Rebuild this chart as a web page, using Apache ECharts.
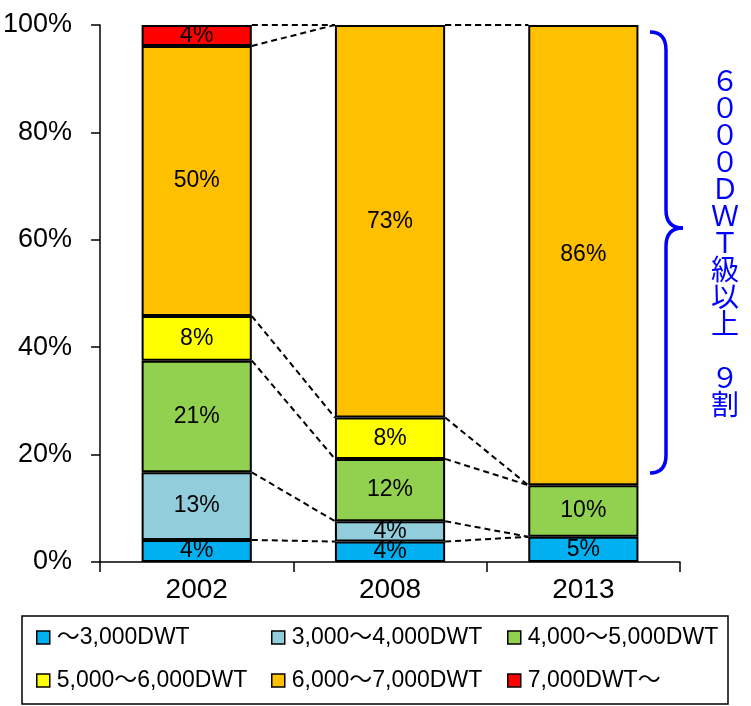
<!DOCTYPE html>
<html>
<head>
<meta charset="utf-8">
<script src="https://cdn.jsdelivr.net/npm/echarts@6/dist/echarts.min.js"></script>
<style>
  html, body { margin: 0; padding: 0; background: #fff; }
  #chart { width: 751px; height: 706px; }
</style>
</head>
<body>
<div id="chart"></div>
<script>
// Fleet composition by ship size (share of vessels, %)
const years = ['2002', '2008', '2013'];

const seriesNames = [
  '～3,000DWT',
  '3,000～4,000DWT',
  '4,000～5,000DWT',
  '5,000～6,000DWT',
  '6,000～7,000DWT',
  '7,000DWT～'
];

const under3000   = [4.1, 3.8, 4.7];
const from3to4k   = [12.6, 3.8, 0];
const from4to5k   = [20.8, 11.6, 9.6];
const from5to6k   = [8.3, 7.7, 0];
const from6to7k   = [50.3, 73.1, 85.7];
const over7000    = [3.9, 0, 0];

const seriesValues = [under3000, from3to4k, from4to5k, from5to6k, from6to7k, over7000];
const seriesColors = ['#00B0F0', '#92CDDC', '#92D050', '#FFFF00', '#FFC000', '#FF0000'];

const yTicks = [0, 20, 40, 60, 80, 100];
const braceNote = ['６', '０', '０', '０', 'Ｄ', 'Ｗ', 'Ｔ', '級', '以', '上', '　', '９', '割'];

const BAR_RATIO = 0.57;
const LABEL_FONT = '"Liberation Sans", "Noto Sans CJK JP", Arial, sans-serif';

// cumulative top of each segment in each year, for the connector lines
const cumTops = [];
(function () {
  const running = years.map(() => 0);
  seriesValues.forEach(vals => {
    const tops = vals.map((v, i) => { running[i] += v; return running[i]; });
    cumTops.push(tops);
  });
})();

const barSeries = seriesNames.map((name, s) => ({
  name: name,
  type: 'bar',
  stack: 'share',
  barWidth: (BAR_RATIO * 100) + '%',
  data: seriesValues[s].map(v => (v === 0 ? null : v)),
  itemStyle: { color: seriesColors[s], borderColor: '#000', borderWidth: 2 },
  label: {
    show: true,
    position: 'inside',
    color: '#000',
    fontFamily: LABEL_FONT,
    fontSize: 23,
    formatter: p => (p.value == null ? '' : Math.round(p.value) + '%')
  },
  emphasis: { disabled: true }
}));

// dashed connectors between neighbouring bars
const connectorSeries = {
  type: 'custom',
  silent: true,
  z: 1,
  data: years.slice(0, -1).map((_, i) => [i, 0]),
  encode: { x: 0, y: 1 },
  renderItem: function (params, api) {
    const i = api.value(0);
    const half = api.size([1, 0])[0] * BAR_RATIO / 2;
    const children = cumTops.map(tops => {
      const a = api.coord([i, tops[i]]);
      const b = api.coord([i + 1, tops[i + 1]]);
      return {
        type: 'line',
        shape: { x1: a[0] + half, y1: a[1], x2: b[0] - half, y2: b[1] },
        style: { stroke: '#000', lineWidth: 2, lineDash: [6, 4] }
      };
    });
    return { type: 'group', children: children };
  }
};

function legendColumn(names, left) {
  return {
    orient: 'vertical',
    left: left,
    top: 626,
    padding: 0,
    itemGap: 20,
    itemWidth: 13,
    itemHeight: 13,
    icon: 'rect',
    selectedMode: false,
    data: names,
    itemStyle: { borderColor: '#000', borderWidth: 1.5 },
    textStyle: { fontFamily: LABEL_FONT, fontSize: 23, color: '#000', padding: [0, 0, 0, 2] }
  };
}

// curly brace beside the last bar
const braceStyle = { fill: 'none', stroke: '#0000FF', lineWidth: 3.5 };
function braceCurve(x1, y1, cx, cy, x2, y2) {
  return { type: 'bezierCurve', silent: true, shape: { x1: x1, y1: y1, cpx1: cx, cpy1: cy, x2: x2, y2: y2 }, style: braceStyle };
}
function braceLine(x1, y1, x2, y2) {
  return { type: 'line', silent: true, shape: { x1: x1, y1: y1, x2: x2, y2: y2 }, style: braceStyle };
}

const chart = echarts.init(document.getElementById('chart'), null, { renderer: 'canvas' });

chart.setOption({
  animation: false,
  backgroundColor: '#fff',
  grid: { left: 97, right: 71, top: 25, bottom: 144, containLabel: false },
  xAxis: {
    type: 'category',
    data: years,
    axisLine: { lineStyle: { color: '#000', width: 1.5 } },
    axisTick: { show: true, length: 10, lineStyle: { color: '#000', width: 1.5 } },
    axisLabel: { color: '#000', fontFamily: LABEL_FONT, fontSize: 28, margin: 14 }
  },
  yAxis: {
    type: 'value',
    min: yTicks[0],
    max: yTicks[yTicks.length - 1],
    interval: yTicks[1] - yTicks[0],
    splitLine: { show: false },
    axisLine: { show: true, lineStyle: { color: '#000', width: 1.5 } },
    axisTick: { show: true, length: 9, lineStyle: { color: '#000', width: 1.5 } },
    axisLabel: { color: '#000', fontFamily: LABEL_FONT, fontSize: 27, margin: 28, formatter: '{value}%' }
  },
  legend: [
    legendColumn([seriesNames[0], seriesNames[3]], 36),
    legendColumn([seriesNames[1], seriesNames[4]], 271),
    legendColumn([seriesNames[2], seriesNames[5]], 507)
  ],
  graphic: [
    {
      type: 'rect',
      silent: true,
      shape: { x: 22, y: 616, width: 706, height: 88 },
      style: { fill: 'none', stroke: '#000', lineWidth: 1.5 }
    },
    {
      type: 'group',
      silent: true,
      children: [
        braceCurve(650, 32, 666, 32, 666, 50),
        braceLine(666, 50, 666, 210),
        braceCurve(666, 210, 666, 228, 683, 228),
        braceCurve(683, 228, 666, 228, 666, 246),
        braceLine(666, 246, 666, 455),
        braceCurve(666, 455, 666, 473, 650, 473)
      ]
    },
    {
      type: 'text',
      silent: true,
      x: 725,
      y: 67,
      style: {
        text: braceNote.join('\n'),
        fill: '#0000FF',
        fontFamily: '"Noto Sans CJK JP", sans-serif',
        fontSize: 28,
        lineHeight: 27,
        align: 'center',
        verticalAlign: 'top'
      }
    }
  ],
  series: barSeries.concat([connectorSeries])
});
</script>
</body>
</html>
